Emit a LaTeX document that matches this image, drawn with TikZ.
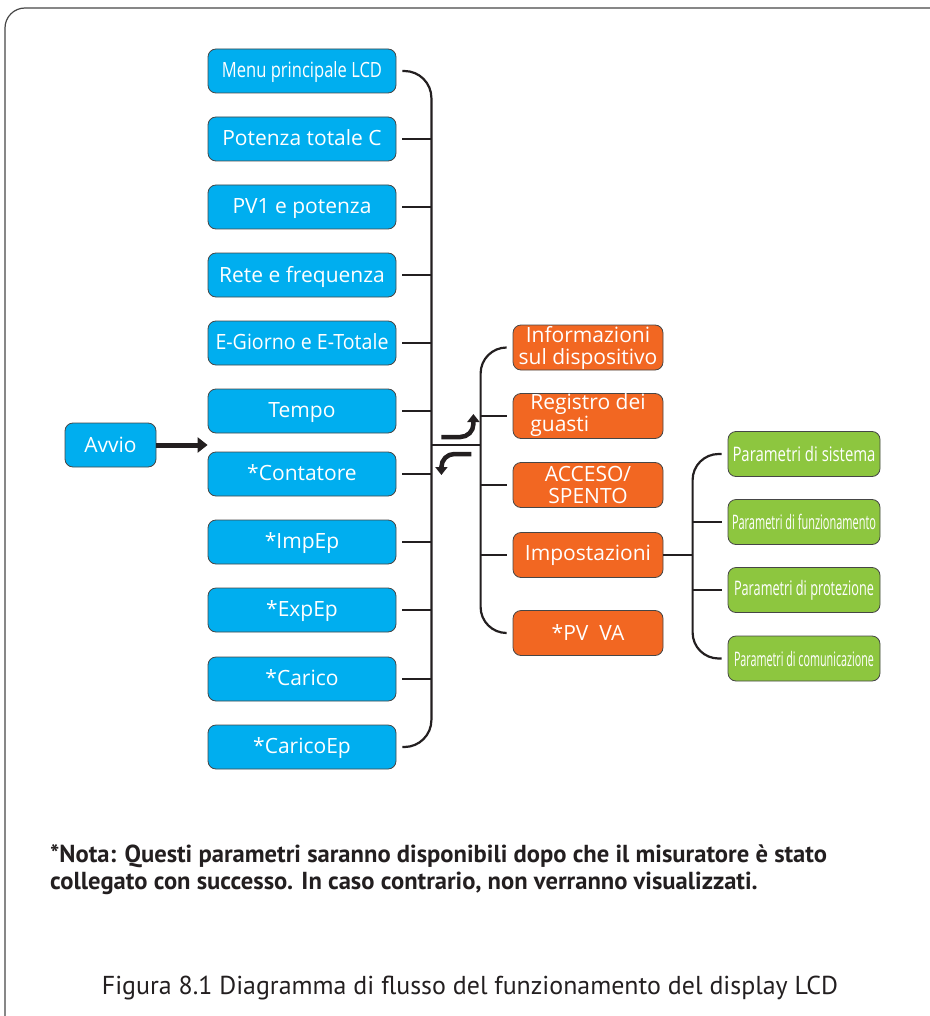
\documentclass[tikz,border=0pt]{standalone}
\usepackage{fontspec}
\setmainfont{Open Sans}
\newfontfamily\notefont{PT Sans}
\usepackage{graphicx}
\usetikzlibrary{arrows.meta, positioning, calc}
\definecolor{myblue}{RGB}{0,174,239}
\definecolor{myorange}{RGB}{242,103,34}
\definecolor{mygreen}{RGB}{141,198,63}
\definecolor{mydark}{RGB}{35,31,32}
\definecolor{myedge}{RGB}{70,70,70}
\newcommand{\squeeze}[2]{\resizebox{#1}{\height}{#2}}
\tikzset{
  line/.style={draw=mydark, line width=2.2pt},
  bigarrow/.style={draw=mydark, line width=5pt, -{Triangle[length=10pt,width=15pt]}},
  box/.style={rectangle, draw=myedge, line width=0.8pt, rounded corners=8pt, text=white, align=center, inner sep=0pt, minimum height=44pt, font=\fontsize{21}{22}\selectfont},
  bbox/.style={box, fill=myblue, minimum width=188pt, text depth=2pt},
  obox/.style={box, fill=myorange, minimum width=150pt, minimum height=45pt},
  gbox/.style={box, fill=mygreen, minimum width=152pt, minimum height=45pt, font=\fontsize{20}{22}\selectfont}
}

\begin{document}
\begin{tikzpicture}[x=1pt, y=-1pt]
  \useasboundingbox (0,0) rectangle (929,1016);
  \draw[myedge, line width=1.2pt, rounded corners=20pt] (5,8) rectangle (950,1045);

  % left column
  \node [bbox] (menu) at (302,71) {\squeeze{160pt}{Menu principale LCD}};
  \node [bbox] (ptot) at (302,139) {Potenza totale C};
  \node [bbox] (pv) at (302,207) {PV1 e potenza};
  \node [bbox] (rete) at (302,275) {Rete e frequenza};
  \node [bbox] (egio) at (302,343) {\squeeze{173pt}{E-Giorno e E-Totale}};
  \node [bbox] (tempo) at (302,411) {Tempo};
  \node [bbox] (cont) at (302,474) {*Contatore};
  \node [bbox] (imp) at (302,542) {*ImpEp};
  \node [bbox] (exp) at (302,610) {*ExpEp};
  \node [bbox] (carico) at (302,679) {*Carico};
  \node [bbox] (cep) at (302,747) {*CaricoEp};
  \node [box, fill=myblue, minimum width=91pt] (avvio) at (110.5,445) {Avvio};

  % middle column
  \node [obox] (info) at (588,347.5) {Informazioni\\sul dispositivo};
  \node [obox] (reg) at (588,416) {\begin{tabular}{@{}l@{}}Registro dei\\guasti\end{tabular}};
  \node [obox] (onoff) at (588,485) {ACCESO/\\SPENTO};
  \node [obox] (sett) at (588,555) {Impostazioni};
  \node [obox] (pvva) at (588,633) {*PV\ \ VA};

  % right column
  \node [gbox] (gsys) at (804,454) {\squeeze{143pt}{Parametri di sistema}};
  \node [gbox] (gfun) at (804,522) {\squeeze{144pt}{Parametri di funzionamento}};
  \node [gbox] (gpro) at (804,590) {\squeeze{140pt}{Parametri di protezione}};
  \node [gbox] (gcom) at (804,658.5) {\squeeze{140pt}{Parametri di comunicazione}};

  \coordinate (b1) at ($(menu.east)+(35,0)$);
  \coordinate (b2) at ($(info.west)+(-32,0)$);
  \coordinate (b3) at ($(gsys.west)+(-35,0)$);

  \draw [bigarrow] (avvio.east) -- (avvio.east -| cont.west);

  \draw [line, rounded corners=27pt] ($(menu.east)+(6,0)$) -| ($(cep.east)+(35,0)$) -- ($(cep.east)+(6,0)$);
  \foreach \n in {ptot,pv,rete,egio,tempo,cont,imp,exp,carico}
    \draw [line] ($(\n.east)+(6,0)$) -- (\n.east -| b1);

  \draw [line] (avvio.east -| b1) -- (avvio.east -| b2);
  \draw [line, rounded corners=26pt] ($(info.west)+(-6,0)$) -| ($(pvva.west)+(-32,0)$) -- ($(pvva.west)+(-6,0)$);
  \foreach \n in {reg,onoff,sett}
    \draw [line] ($(\n.west)+(-6,0)$) -- (\n.west -| b2);

  \draw [line] (sett.east) -- (sett.east -| b3);
  \draw [line, rounded corners=26pt] ($(gsys.west)+(-6,0)$) -| ($(gcom.west)+(-35,0)$) -- ($(gcom.west)+(-6,0)$);
  \foreach \n in {gfun,gpro}
    \draw [line] ($(\n.west)+(-6,0)$) -- (\n.west -| b3);

  % swap arrows
  \coordinate (mid) at (avvio.east -| b1);
  \draw [bigarrow, line width=4.5pt, -{Triangle[length=8pt,width=12pt]}, rounded corners=13pt]
    ($(mid)+(10,-8)$) -- ($(mid)+(42,-8)$) -- ($(mid)+(42,-31)$);
  \draw [bigarrow, line width=4.5pt, -{Triangle[length=8pt,width=12pt]}, rounded corners=13pt]
    ($(mid)+(40,9)$) -- ($(mid)+(10,9)$) -- ($(mid)+(10,30)$);

  \node [anchor=north west, align=left, inner sep=0pt, text=mydark,
    font=\notefont\bfseries\fontsize{24.6}{27}\selectfont] (nota) at (50,844)
    {*Nota: Questi parametri saranno disponibili dopo che il misuratore è stato\\
     collegato con successo. In caso contrario, non verranno visualizzati.};
  \node [text=mydark, font=\notefont\fontsize{25.9}{30}\selectfont] (caption) at (470,988)
    {Figura 8.1 Diagramma di flusso del funzionamento del display LCD};
\end{tikzpicture}
\end{document}
